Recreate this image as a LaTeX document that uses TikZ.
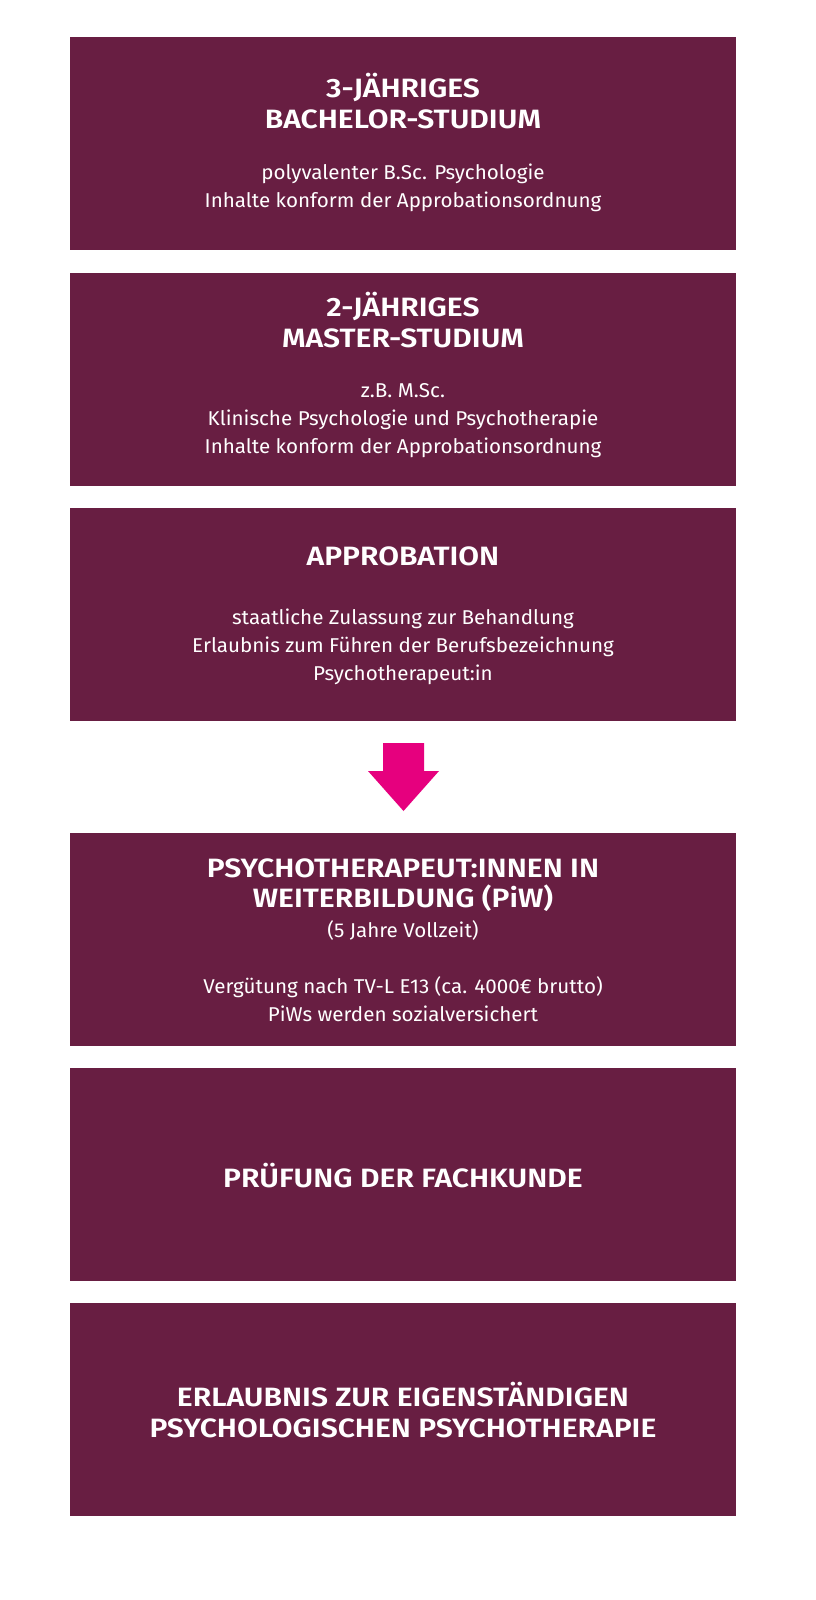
\documentclass[tikz,border=0pt]{standalone}
\usepackage{fontspec}
\setmainfont{Fira Sans}
\IfFontExistsTF{Fira Sans SemiBold}{\newfontfamily\titlefont[FakeStretch=1.135]{Fira Sans SemiBold}}{\newfontfamily\titlefont[FakeStretch=1.12]{Fira Sans Bold}}
\IfFontExistsTF{Fira Sans Book}{\newfontfamily\bodyfont[FakeStretch=1.04]{Fira Sans Book}}{\newfontfamily\bodyfont[FakeStretch=1.03]{Fira Sans}}
\definecolor{boxc}{RGB}{104,30,66}
\definecolor{arrowc}{RGB}{230,0,126}
\begin{document}
\begin{tikzpicture}[x=1pt,y=-1pt,
  box/.style={fill=boxc,draw=none,minimum width=666pt,minimum height=213pt,inner sep=0pt},
  title/.style={text=white,align=center,inner sep=0pt,font=\titlefont\fontsize{26.5}{30.5}\selectfont},
  body/.style={text=white,align=center,inner sep=0pt,font=\bodyfont\fontsize{20}{28}\selectfont}]
\useasboundingbox[fill=white] (0,0) rectangle (816,1600);
% boxes
\node[box] (b1) at (403,143.5) {};
\node[box] (b2) at (403,379) {};
\node[box] (b3) at (403,614) {};
\node[box] (b4) at (403,939.5) {};
\node[box] (b5) at (403,1174.5) {};
\node[box] (b6) at (403,1409.5) {};
% box 1
\node[title] (t1) at (403,101) {3-JÄHRIGES\\BACHELOR-STUDIUM};
\node[body] (d1) at (403,187.5) {polyvalenter B.Sc. Psychologie\\Inhalte konform der Approbationsordnung};
% box 2
\node[title] (t2) at (403,320) {2-JÄHRIGES\\MASTER-STUDIUM};
\node[body] (d2) at (403,421) {z.B. M.Sc.\\Klinische Psychologie und Psychotherapie\\Inhalte konform der Approbationsordnung};
% box 3
\node[title] (t3) at (403,556) {APPROBATION};
\node[body] (d3) at (403,647) {staatliche Zulassung zur Behandlung\\Erlaubnis zum Führen der Berufsbezeichnung\\Psychotherapeut:in};
% arrow
\fill[arrowc] (383,743) -- (424,743) -- (424,771) -- (439,771) -- (403.5,811) -- (368,771) -- (383,771) -- cycle;
% box 4
\node[title] (t4) at (403,885) {PSYCHOTHERAPEUT:INNEN IN\\WEITERBILDUNG (PiW)};
\node[body] (s4) at (403,930) {(5 Jahre Vollzeit)};
\node[body] (d4) at (403,999) {Vergütung nach TV-L E13 (ca. 4000€ brutto)\\PiWs werden sozialversichert};
% box 5
\node[title] (t5) at (403,1176) {PRÜFUNG DER FACHKUNDE};
% box 6
\node[title] (t6) at (403,1410) {ERLAUBNIS ZUR EIGENSTÄNDIGEN\\PSYCHOLOGISCHEN PSYCHOTHERAPIE};
\end{tikzpicture}
\end{document}
